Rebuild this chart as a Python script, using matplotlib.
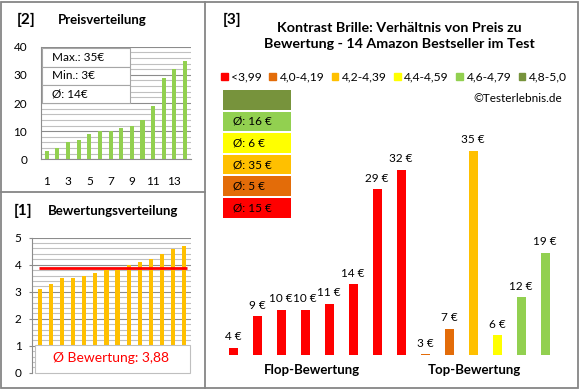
import matplotlib
matplotlib.use("Agg")
import matplotlib.pyplot as plt
import matplotlib.patches as mpatches
from matplotlib.ticker import MultipleLocator

plt.rcParams["font.family"] = ["Lato", "DejaVu Sans"]

# ---------------------------------------------------------------------------
# Data
# ---------------------------------------------------------------------------
prices_sorted = [3, 4, 6, 7, 9, 10, 10, 11, 12, 14, 19, 29, 32, 35]
ratings_sorted = [3.1, 3.3, 3.5, 3.5, 3.6, 3.7, 3.8, 3.8, 4.0, 4.1, 4.2, 4.4, 4.6, 4.7]

bar_prices = [4, 9, 10, 10, 11, 14, 29, 32, 3, 7, 35, 6, 12, 19]
bar_groups = ["<3,99"] * 8 + ["4,0-4,19", "4,0-4,19", "4,2-4,39",
                              "4,4-4,59", "4,6-4,79", "4,6-4,79"]

group_labels = ["<3,99", "4,0-4,19", "4,2-4,39", "4,4-4,59", "4,6-4,79", "4,8-5,0"]
group_colors = ["#FF0000", "#E36C09", "#FFC000", "#FFFF00", "#92D050", "#77933C"]

# left legend boxes (top to bottom)
avg_box_colors = ["#77933C", "#92D050", "#FFFF00", "#FFC000", "#E36C09", "#FF0000"]
avg_box_labels = ["", "Ø: 16 €", "Ø: 6 €", "Ø: 35 €", "Ø: 5 €", "Ø: 15 €"]

stats_labels = ["Max.: 35€", "Min.: 3€", "Ø: 14€"]
rating_avg_label = "Ø Bewertung: 3,88"
section_labels = ["Flop-Bewertung", "Top-Bewertung"]

W, H = 580, 390
fig = plt.figure(figsize=(W / 100, H / 100), dpi=100)
fig.patch.set_facecolor("white")


def px_rect(l, t, r, b):
    return [l / W, 1 - b / H, (r - l) / W, (b - t) / H]


GRID_MINOR = "#C0C0C0"
GRID_MAJOR = "#8C8C8C"

# --- [2] Preisverteilung ---
ax2 = fig.add_axes(px_rect(41, 46.7, 191, 159.3))
xs = list(range(1, len(prices_sorted) + 1))
ax2.bar(xs, prices_sorted, width=0.38, color="#92D050", zorder=3)
ax2.set_xlim(0.46, 14.56)
ax2.set_ylim(0, 40)
ax2.yaxis.set_major_locator(MultipleLocator(10))
ax2.yaxis.set_minor_locator(MultipleLocator(2))
ax2.grid(which="minor", axis="y", color=GRID_MINOR, lw=0.8, zorder=0)
ax2.grid(which="major", axis="y", color=GRID_MAJOR, lw=0.8, zorder=0)
ax2.set_xticks(xs[::2])
ax2.tick_params(axis="x", length=0, pad=12, labelsize=8.5)
ax2.tick_params(axis="y", which="both", length=0, pad=10, labelsize=8.5)
for s in ["top", "right"]:
    ax2.spines[s].set_visible(False)
for s in ["left", "bottom"]:
    ax2.spines[s].set_color(GRID_MAJOR)
    ax2.spines[s].set_linewidth(0.8)

# --- [1] Bewertungsverteilung ---
ax1 = fig.add_axes(px_rect(32, 237.7, 191, 372.7))
xs1 = list(range(1, len(ratings_sorted) + 1))
ax1.bar(xs1, ratings_sorted, width=0.38, color="#FFC000", zorder=3)
mean_rating = sum(ratings_sorted) / len(ratings_sorted)
ax1.hlines(mean_rating, 0.9, 14.3, color="#FF0000", lw=2.0, zorder=4)
ax1.set_xlim(0.28, 14.63)
ax1.set_ylim(0, 5)
ax1.yaxis.set_major_locator(MultipleLocator(1))
ax1.yaxis.set_minor_locator(MultipleLocator(0.2))
ax1.grid(which="minor", axis="y", color=GRID_MINOR, lw=0.8, zorder=0)
ax1.grid(which="major", axis="y", color=GRID_MAJOR, lw=0.8, zorder=0)
ax1.set_xticks([])
ax1.tick_params(axis="y", which="major", length=2.5, color=GRID_MAJOR, pad=5, labelsize=8.5)
ax1.tick_params(axis="y", which="minor", length=0)
for s in ["top", "right", "bottom"]:
    ax1.spines[s].set_visible(False)
ax1.spines["left"].set_color(GRID_MAJOR)
ax1.spines["left"].set_linewidth(0.8)

# --- [3] Preis zu Bewertung ---
ax3 = fig.add_axes(px_rect(209, 130, 569, 355))
color_of = dict(zip(group_labels, group_colors))
xs3 = list(range(len(bar_prices)))
ax3.bar(xs3, bar_prices, width=0.375, bottom=0,
        color=[color_of[g] for g in bar_groups], zorder=3)
for x, v in zip(xs3, bar_prices):
    ax3.annotate(f"{v} €", xy=(x, v), xytext=(0, 4), textcoords="offset points",
                 ha="center", va="bottom", fontsize=8.5)
ax3.set_xlim(-1, 14)
ax3.set_ylim(2.9, 38.3)
ax3.axis("off")

# --- overlay in pixel coordinates ---
ov = fig.add_axes([0, 0, 1, 1], zorder=10)
ov.set_xlim(0, W)
ov.set_ylim(H, 0)
ov.axis("off")
ov.patch.set_alpha(0)

BORDER = "#868686"
ov.add_patch(mpatches.Rectangle((1, 1.5), 577, 386.5, fill=False, ec=BORDER, lw=1.3))
ov.plot([205, 205], [1.5, 388], color=BORDER, lw=1.3)
ov.plot([1, 205], [192, 192], color=BORDER, lw=1.3)

# panel titles
ov.text(17, 20, "[2]", fontsize=11, fontweight="bold", va="center")
ov.text(58, 20, "Preisverteilung", fontsize=9.5, fontweight="bold", va="center")
ov.text(14, 211, "[1]", fontsize=11, fontweight="bold", va="center")
ov.text(48, 211, "Bewertungsverteilung", fontsize=9.5, fontweight="bold", va="center")
ov.text(223, 20, "[3]", fontsize=11, fontweight="bold", va="center")
ov.text(399, 36, "Kontrast Brille: Verhältnis von Preis zu\nBewertung - 14 Amazon Bestseller im Test",
        fontsize=10.3, fontweight="bold", ha="center", va="center", linespacing=1.35)

# stats box in [2]
row_h = 18.2
for i, lab in enumerate(stats_labels):
    top = 48.3 + i * row_h
    ov.add_patch(mpatches.Rectangle((41.7, top), 88.3, row_h, fc="white",
                                    ec="#A6A6A6", lw=0.8))
    ov.text(52, top + row_h / 2, lab, fontsize=8.5, va="center")

# average rating box in [1]
ov.add_patch(mpatches.Rectangle((35, 344.5), 155, 28.3, fc="white", ec="#BFBFBF", lw=0.8))
ov.text(111, 358.5, rating_avg_label, fontsize=10, color="#FF0000",
        ha="center", va="center")

# top legend in [3]
handles = [mpatches.Patch(color=c, label=l) for l, c in zip(group_labels, group_colors)]
fig.legend(handles=handles, loc="center", bbox_to_anchor=(394 / W, 1 - 77 / H),
           ncol=6, frameon=False, fontsize=8.7, handlelength=0.55, handleheight=0.55,
           handletextpad=0.3, columnspacing=0.6, borderpad=0)
ov.text(562, 98, "©Testerlebnis.de", fontsize=8.5, ha="right", va="center")

# average boxes in [3]
box_h = 19.5
for i, (c, lab) in enumerate(zip(avg_box_colors, avg_box_labels)):
    top = 90 + i * 21.6
    ov.add_patch(mpatches.Rectangle((223, top), 68, box_h, fc=c, ec="none"))
    ov.text(233, top + box_h / 2, lab, fontsize=8.5, va="center")

# section labels
ov.text(312, 370, section_labels[0], fontsize=9.5, fontweight="bold", ha="center", va="center")
ov.text(474, 370, section_labels[1], fontsize=9.5, fontweight="bold", ha="center", va="center")

fig.savefig("out.png", dpi=100)
